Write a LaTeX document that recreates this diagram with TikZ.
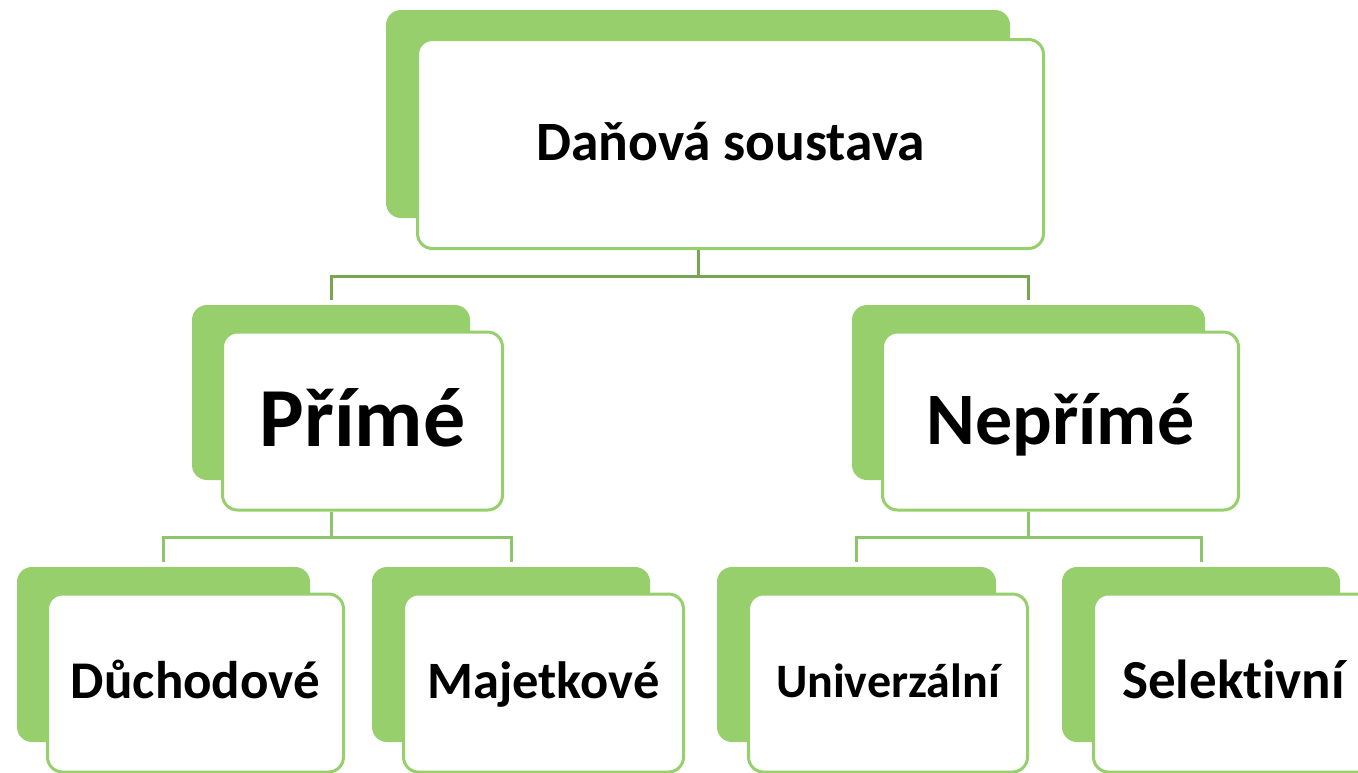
\documentclass[tikz,border=0pt]{standalone}
\usepackage{fontspec}
\setmainfont{Carlito}[Ligatures={NoCommon,NoRare},RawFeature={-liga;-dlig;-clig}]
\definecolor{gfill}{HTML}{96CF6B}
\definecolor{gline}{HTML}{96CF6B}
\definecolor{ctop}{HTML}{78A753}
\definecolor{clow}{HTML}{8CC668}
\begin{document}
\begin{tikzpicture}[x=1pt,y=-1pt,
  backbox/.style={rectangle, fill=gfill, rounded corners=15pt, inner sep=0pt},
  frontbox/.style={rectangle, draw=gline, line width=3pt, fill=white, rounded corners=15pt, inner sep=0pt, text depth=0pt},
  conntop/.style={draw=ctop, line width=3pt},
  connlow/.style={draw=clow, line width=3pt},
  gap/.style={shorten >=5pt}]
\useasboundingbox (0,0) rectangle (1358,772);
% back (green) boxes
\node[backbox, minimum width=624pt, minimum height=208pt] (topG) at (698,114) {};
\node[backbox, minimum width=278pt, minimum height=175pt] (primG) at (331,392.5) {};
\node[backbox, minimum width=353pt, minimum height=175pt] (neprG) at (1028.5,392.5) {};
\node[backbox, minimum width=293pt, minimum height=175pt] (duchG) at (163.5,654.5) {};
\node[backbox, minimum width=278pt, minimum height=175pt] (majG) at (511,654.5) {};
\node[backbox, minimum width=279pt, minimum height=175pt] (uniG) at (856.5,654.5) {};
\node[backbox, minimum width=278pt, minimum height=175pt] (selG) at (1201,654.5) {};
% front (white) boxes
\node[frontbox, minimum width=626pt, minimum height=209pt, text height=32pt,
      font=\bfseries\fontsize{55.5}{64}\selectfont] (topW) at (730.5,144) {Daňová soustava};
\node[frontbox, minimum width=280pt, minimum height=178pt, text height=50pt,
      font=\bfseries\fontsize{84}{96}\selectfont] (primW) at (362.5,421) {Přímé};
\node[frontbox, minimum width=356pt, minimum height=178pt, text height=46pt,
      font=\bfseries\fontsize{74}{86}\selectfont] (neprW) at (1060.5,421) {Nepřímé};
\node[frontbox, minimum width=296pt, minimum height=178pt, text height=30pt,
      font=\bfseries\fontsize{53}{62}\selectfont] (duchW) at (195.5,683) {Důchodové};
\node[frontbox, minimum width=280pt, minimum height=178pt, text height=30pt,
      font=\bfseries\fontsize{52.5}{62}\selectfont] (majW) at (543.5,683) {Majetkové};
\node[frontbox, minimum width=279pt, minimum height=178pt, text height=28pt,
      font=\bfseries\fontsize{48}{56}\selectfont] (uniW) at (888,683) {Univerzální};
\node[frontbox, minimum width=280pt, minimum height=178pt, text height=30pt,
      font=\bfseries\fontsize{55}{64}\selectfont] (selW) at (1233.5,683) {Selekt\kern0pt ivní};
% connectors
\coordinate (j0) at (698,276);
\coordinate (j1) at (331,537);
\coordinate (j2) at (1028.5,537);
\draw[conntop] (topW.south -| topG.south) -- (j0);
\draw[conntop, gap] (j0) -| (primG.north);
\draw[conntop, gap] (j0) -| (neprG.north);
\draw[connlow] (primW.south -| primG.south) -- (j1);
\draw[connlow, gap] (j1) -| (duchG.north);
\draw[connlow, gap] (j1) -| (majG.north);
\draw[connlow] (neprW.south -| neprG.south) -- (j2);
\draw[connlow, gap] (j2) -| (uniG.north);
\draw[connlow, gap] (j2) -| (selG.north);
\end{tikzpicture}
\end{document}
